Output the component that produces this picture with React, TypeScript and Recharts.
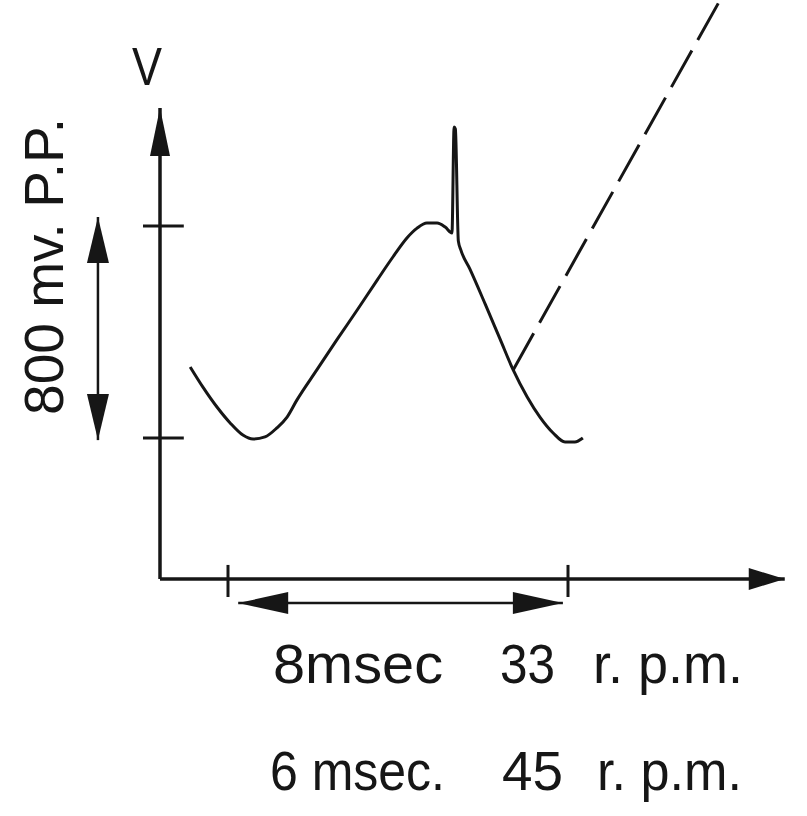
import React from 'react';
import { ComposedChart, Line, XAxis, YAxis, ReferenceLine, Customized } from 'recharts';

const W = 807;
const H = 816;

// pulse trace: time in ms, voltage in mV
const waveTime = [-0.89, -0.59, -0.26, 0.05, 0.35, 0.59, 0.87, 1.15, 1.39, 1.62, 2.09, 2.56, 3.04, 3.51, 3.88, 4.21, 4.45, 4.68, 4.92, 5.11, 5.27, 5.32, 5.35, 5.42, 5.48, 5.69, 6.05, 6.4, 6.71, 7.04, 7.34, 7.65, 7.93, 8.16, 8.35];
const waveMv = [268, 192, 117, 57, 11, -4, 4, 38, 79, 143, 257, 370, 483, 596, 683, 755, 792, 811, 811, 796, 774, 1174, 1166, 743, 709, 638, 506, 374, 257, 155, 79, 19, -15, -15, 0];

// dashed continuation going off the top
const dashTime = [6.71, 11.58];
const dashMv = [257, 1653];

// marked spans: 8 ms along time, 800 mV p-p along voltage
const spanMs = [0, 8];
const spanMv = [0, 800];

const captionRows = [
  ['8msec', '33', 'r. p.m.'],
  ['6 msec.', '45', 'r. p.m.'],
];

// pixel scale of the drawing
const MS_PX = 42.5;
const T0_PX = 228;
const MV_PX = 0.265;
const V0_PX = 438;
const T_MIN = -T0_PX / MS_PX;
const T_MAX = (W - T0_PX) / MS_PX;
const V_MAX = V0_PX / MV_PX;
const V_MIN = -(H - V0_PX) / MV_PX;

// axis corner and arrow tips, in data units
const AXIS_T = -1.6;
const AXIS_V = -532;
const AXIS_T_END = 13.1;
const AXIS_V_END = 1245;

const INK = '#161616';

const wave = waveTime.map((t, i) => ({ t, v: waveMv[i] }));
const dash = dashTime.map((t, i) => ({ t, v: dashMv[i] }));

const arrow = (both: boolean, len: number, half: number, width: number) => (p: any) => {
  const { x1, y1, x2, y2 } = p;
  const dx = x2 - x1;
  const dy = y2 - y1;
  const L = Math.hypot(dx, dy) || 1;
  const ux = dx / L;
  const uy = dy / L;
  const head = (tx: number, ty: number, sx: number, sy: number) => {
    const bx = tx - sx * len;
    const by = ty - sy * len;
    return `${tx},${ty} ${bx - sy * half},${by + sx * half} ${bx + sy * half},${by - sx * half}`;
  };
  return (
    <g>
      <line x1={x1} y1={y1} x2={x2} y2={y2} stroke={INK} strokeWidth={width} />
      <polygon points={head(x2, y2, ux, uy)} fill={INK} />
      {both && <polygon points={head(x1, y1, -ux, -uy)} fill={INK} />}
    </g>
  );
};

const Captions = () => (
  <g fontFamily="'Liberation Sans', Arial, sans-serif" fill={INK}>
    <text x={147} y={85} fontSize={54} textAnchor="middle" textLength={30} lengthAdjust="spacingAndGlyphs">V</text>
    <text
      x={63}
      y={415}
      fontSize={56}
      transform="rotate(-90 63 415)"
      textLength={297}
      lengthAdjust="spacingAndGlyphs"
    >
      800 mv. P.P.
    </text>
    {captionRows.map((row, r) => {
      const y = r === 0 ? 683 : 790;
      const xs = r === 0 ? [273, 500, 593] : [270, 502, 597];
      const ws = r === 0 ? [170, 55, 150] : [175, 61, 145];
      return row.map((s, c) => (
        <text key={`${r}-${c}`} x={xs[c]} y={y} fontSize={56} textLength={ws[c]} lengthAdjust="spacingAndGlyphs">
          {s}
        </text>
      ));
    })}
  </g>
);

export default function App() {
  return (
    <div style={{ position: 'absolute', left: 0, top: 0, width: W, height: H, background: '#fff' }}>
      <ComposedChart width={W} height={H} margin={{ top: 0, right: 0, bottom: 0, left: 0 }}>
        <XAxis type="number" dataKey="t" domain={[T_MIN, T_MAX]} allowDataOverflow hide />
        <YAxis type="number" domain={[V_MIN, V_MAX]} allowDataOverflow hide width={0} />

        {/* axes */}
        <ReferenceLine
          segment={[{ x: AXIS_T, y: AXIS_V }, { x: AXIS_T, y: AXIS_V_END }]}
          shape={arrow(false, 48, 10, 3.5)}
        />
        <ReferenceLine
          segment={[{ x: AXIS_T, y: AXIS_V }, { x: AXIS_T_END, y: AXIS_V }]}
          shape={arrow(false, 36, 11, 3.5)}
        />

        {/* tick marks */}
        {spanMv.map((v) => (
          <ReferenceLine key={`mv-${v}`} segment={[{ x: -2.0, y: v }, { x: -1.04, y: v }]} stroke={INK} strokeWidth={3} />
        ))}
        {spanMs.map((t) => (
          <ReferenceLine key={`ms-${t}`} segment={[{ x: t, y: -479 }, { x: t, y: -600 }]} stroke={INK} strokeWidth={3} />
        ))}

        {/* span arrows */}
        <ReferenceLine
          segment={[{ x: -3.06, y: spanMv[0] - 8 }, { x: -3.06, y: spanMv[1] + 34 }]}
          shape={arrow(true, 46, 11, 2.5)}
        />
        <ReferenceLine
          segment={[{ x: spanMs[0] + 0.24, y: -623 }, { x: spanMs[1] - 0.12, y: -623 }]}
          shape={arrow(true, 50, 11, 2.5)}
        />

        <Line
          data={wave}
          dataKey="v"
          type="monotone"
          stroke={INK}
          strokeWidth={3}
          strokeLinejoin="round"
          dot={false}
          activeDot={false}
          isAnimationActive={false}
        />
        <Line
          data={dash}
          dataKey="v"
          type="linear"
          stroke={INK}
          strokeWidth={3}
          strokeDasharray="42 12"
          dot={false}
          activeDot={false}
          isAnimationActive={false}
        />
        <Customized component={Captions} />
      </ComposedChart>
    </div>
  );
}
